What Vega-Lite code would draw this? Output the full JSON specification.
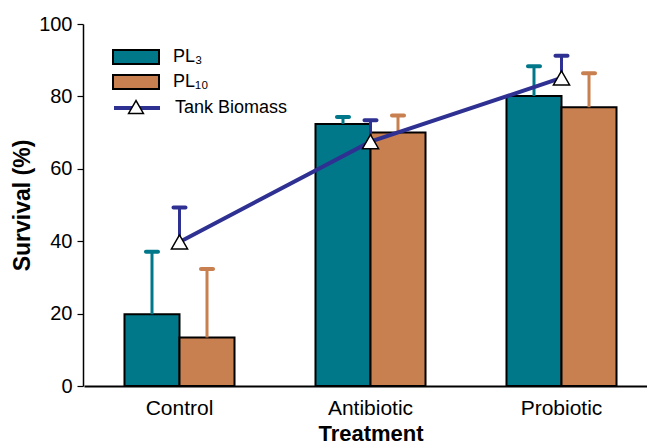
{
  "$schema": "https://vega.github.io/schema/vega-lite/v6.json",
  "autosize": "none",
  "width": 564,
  "height": 362,
  "padding": {"left": 83, "top": 24, "right": 0, "bottom": 58},
  "background": "white",
  "config": {
    "view": {"stroke": null},
    "font": "Liberation Sans"
  },
  "resolve": {"scale": {"color": "independent", "stroke": "independent"}},
  "datasets": {
    "bars": [
      {"treatment": "Control", "series": "PL₃", "value": 19.8, "err": 37.1},
      {"treatment": "Control", "series": "PL₁₀", "value": 13.4, "err": 32.3},
      {"treatment": "Antibiotic", "series": "PL₃", "value": 72.4, "err": 74.3},
      {"treatment": "Antibiotic", "series": "PL₁₀", "value": 70.0, "err": 74.7},
      {"treatment": "Probiotic", "series": "PL₃", "value": 80.1, "err": 88.3},
      {"treatment": "Probiotic", "series": "PL₁₀", "value": 77.0, "err": 86.4}
    ],
    "tank": [
      {"treatment": "Control", "series": "Tank Biomass", "marker": "Tank Biomass", "value": 39.8, "err": 49.3},
      {"treatment": "Antibiotic", "series": "Tank Biomass", "marker": "Tank Biomass", "value": 67.5, "err": 73.4},
      {"treatment": "Probiotic", "series": "Tank Biomass", "marker": "Tank Biomass", "value": 85.1, "err": 91.2}
    ]
  },
  "encoding": {
    "x": {
      "field": "treatment",
      "type": "nominal",
      "sort": ["Control", "Antibiotic", "Probiotic"],
      "scale": {"range": [1, 574], "paddingInner": 0, "paddingOuter": 0},
      "axis": {
        "title": "Treatment",
        "titleFontSize": 22,
        "titleFontWeight": "bold",
        "titleColor": "black",
        "titlePadding": 5,
        "labelFontSize": 21,
        "labelColor": "black",
        "labelAngle": 0,
        "labelPadding": 11,
        "ticks": false,
        "domainColor": "black",
        "domainWidth": 2
      }
    }
  },
  "layer": [
    {
      "data": {"name": "bars"},
      "mark": {"type": "bar", "stroke": "black", "strokeWidth": 2},
      "encoding": {
        "xOffset": {"field": "series", "type": "nominal", "sort": ["PL₃", "PL₁₀"], "scale": {"paddingInner": 0, "paddingOuter": 0.736}},
        "y": {
          "field": "value",
          "type": "quantitative",
          "scale": {"domain": [0, 100], "nice": false},
          "axis": {
            "title": "Survival (%)",
            "titleFontSize": 23,
            "titleFontWeight": "bold",
            "titleColor": "black",
            "titlePadding": 4,
            "labelFontSize": 20,
            "labelColor": "black",
            "labelPadding": 5,
            "values": [0, 20, 40, 60, 80, 100],
            "grid": false,
            "tickColor": "black",
            "tickSize": 6,
            "tickWidth": 1.2,
            "domainColor": "black",
            "domainWidth": 1.5
          }
        },
        "fill": {
          "field": "series",
          "type": "nominal",
          "sort": ["PL₃", "PL₁₀"],
          "scale": {"domain": ["PL₃", "PL₁₀"], "range": ["#00788A", "#C98050"]},
          "legend": {
            "title": null,
            "orient": "none",
            "legendX": 44,
            "legendY": 24,
            "symbolType": "M-3,-0.9H3V0.9H-3Z",
            "symbolSize": 235,
            "symbolStrokeColor": "black",
            "symbolStrokeWidth": 2,
            "symbolOpacity": 1,
            "labelFontSize": 18,
            "labelColor": "black",
            "labelOffset": 28,
            "rowPadding": 3
          }
        }
      }
    },
    {
      "data": {"name": "bars"},
      "mark": {"type": "rule", "strokeWidth": 3},
      "encoding": {
        "xOffset": {"field": "series", "type": "nominal", "sort": ["PL₃", "PL₁₀"]},
        "y": {"field": "value", "type": "quantitative"},
        "y2": {"field": "err"},
        "color": {"field": "series", "type": "nominal", "scale": {"domain": ["PL₃", "PL₁₀"], "range": ["#00788A", "#C98050"]}, "legend": null}
      }
    },
    {
      "data": {"name": "bars"},
      "mark": {"type": "tick", "size": 16, "thickness": 4, "cornerRadius": 2, "opacity": 1},
      "encoding": {
        "xOffset": {"field": "series", "type": "nominal", "sort": ["PL₃", "PL₁₀"]},
        "y": {"field": "err", "type": "quantitative"},
        "color": {"field": "series", "type": "nominal", "scale": {"domain": ["PL₃", "PL₁₀"], "range": ["#00788A", "#C98050"]}, "legend": null}
      }
    },
    {
      "data": {"name": "tank"},
      "mark": {"type": "rule", "strokeWidth": 3, "color": "#2E3192"},
      "encoding": {
        "y": {"field": "value", "type": "quantitative"},
        "y2": {"field": "err"}
      }
    },
    {
      "data": {"name": "tank"},
      "mark": {"type": "tick", "size": 16, "thickness": 4, "cornerRadius": 2, "color": "#2E3192", "opacity": 1},
      "encoding": {
        "y": {"field": "err", "type": "quantitative"}
      }
    },
    {
      "data": {"name": "tank"},
      "mark": {"type": "line", "strokeWidth": 4},
      "encoding": {
        "y": {"field": "value", "type": "quantitative"},
        "stroke": {
          "field": "series",
          "type": "nominal",
          "scale": {"range": ["#2E3192"]},
          "legend": {
            "title": null,
            "orient": "none",
            "legendX": 44,
            "legendY": 74,
            "symbolType": "M-3,0H3",
            "symbolSize": 235,
            "symbolStrokeWidth": 4,
            "labelFontSize": 18,
            "labelColor": "black",
            "labelOffset": 28
          }
        }
      }
    },
    {
      "data": {"name": "tank"},
      "mark": {"type": "point", "filled": true, "fill": "white", "stroke": "black", "strokeWidth": 1.5, "size": 260, "opacity": 1, "shape": "triangle-up"},
      "encoding": {
        "y": {"field": "value", "type": "quantitative"}
      }
    },
    {
      "data": {"name": "tank"},
      "mark": {"type": "rule", "strokeWidth": 1.5},
      "encoding": {
        "y": {"field": "value", "type": "quantitative"},
        "y2": {"field": "value"},
        "stroke": {
          "field": "marker",
          "type": "nominal",
          "scale": {"range": ["black"]},
          "legend": {
            "title": null,
            "orient": "none",
            "legendX": 44,
            "legendY": 74,
            "symbolType": "triangle-up",
            "symbolSize": 220,
            "symbolFillColor": "white",
            "symbolStrokeWidth": 1.5,
            "symbolOpacity": 1,
            "labelFontSize": 18,
            "labelExpr": "''",
            "labelOffset": 28
          }
        }
      }
    }
  ]
}
